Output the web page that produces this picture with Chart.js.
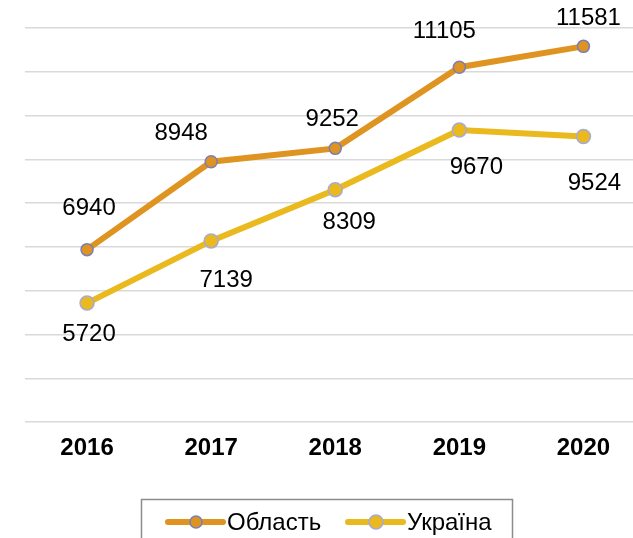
<!DOCTYPE html>
<html>
<head>
<meta charset="utf-8">
<script src="https://cdn.jsdelivr.net/npm/chart.js@4"></script>
<style>
  html, body { margin: 0; padding: 0; background: #fff; }
  #wrap { width: 633px; height: 538px; overflow: hidden; }
</style>
</head>
<body>
<div id="wrap"><canvas id="chart" width="654" height="538"></canvas></div>
<script>
// chart data
const years = ['2016', '2017', '2018', '2019', '2020'];
const oblast = [6940, 8948, 9252, 11105, 11581];
const ukraine = [5720, 7139, 8309, 9670, 9524];

// value label nudges, [dx, dy] from the point
const oblastShift = [[2, -41], [-30, -28], [-3, -29], [-15, -36], [5, -28]];
const ukraineShift = [[2, 31], [15, 39], [14, 33], [17, 37], [11, 47]];

const FONT = "'Liberation Sans', Arial, sans-serif";

// value labels next to the points
const labelPlugin = {
  id: 'valueLabels',
  afterDatasetsDraw(chart) {
    const ctx = chart.ctx;
    const shifts = [oblastShift, ukraineShift];
    ctx.save();
    ctx.font = '24px ' + FONT;
    ctx.fillStyle = '#000';
    ctx.textAlign = 'center';
    ctx.textBaseline = 'middle';
    chart.data.datasets.forEach(function (ds, i) {
      chart.getDatasetMeta(i).data.forEach(function (pt, j) {
        const s = shifts[i][j];
        ctx.fillText(String(ds.data[j]), pt.x + s[0], pt.y + s[1]);
      });
    });
    ctx.restore();
  }
};

// boxed legend with line + marker symbols
const legendPlugin = {
  id: 'boxLegend',
  afterDraw(chart) {
    const ctx = chart.ctx;
    const ds = chart.data.datasets;
    const cy = 522;
    ctx.save();
    ctx.strokeStyle = '#8c8c8c';
    ctx.lineWidth = 1.5;
    ctx.strokeRect(141.5, 499.5, 371, 60);
    [168, 348].forEach(function (x, i) {
      const d = ds[i];
      ctx.strokeStyle = d.borderColor;
      ctx.lineWidth = d.borderWidth;
      ctx.lineCap = 'round';
      ctx.beginPath();
      ctx.moveTo(x, cy);
      ctx.lineTo(x + 55, cy);
      ctx.stroke();
      ctx.beginPath();
      ctx.arc(x + 28, cy, d.pointRadius, 0, Math.PI * 2);
      ctx.fillStyle = d.pointBackgroundColor;
      ctx.fill();
      ctx.lineWidth = d.pointBorderWidth;
      ctx.strokeStyle = d.pointBorderColor;
      ctx.stroke();
      ctx.font = '24px ' + FONT;
      ctx.fillStyle = '#000';
      ctx.textAlign = 'left';
      ctx.textBaseline = 'middle';
      ctx.fillText(d.label, x + 59, cy + 1);
    });
    ctx.restore();
  }
};

new Chart(document.getElementById('chart').getContext('2d'), {
  type: 'line',
  data: {
    labels: years,
    datasets: [{
      label: 'Область',
      data: oblast,
      borderColor: '#df9320',
      borderWidth: 6,
      pointRadius: 6,
      pointBackgroundColor: '#df9320',
      pointBorderColor: '#7a7fb5',
      pointBorderWidth: 1.5,
      tension: 0,
      clip: false
    }, {
      label: 'Україна',
      data: ukraine,
      borderColor: '#eab91e',
      borderWidth: 6,
      pointRadius: 7,
      pointBackgroundColor: '#eab91e',
      pointBorderColor: '#a8aad6',
      pointBorderWidth: 1.5,
      tension: 0,
      clip: false
    }]
  },
  options: {
    responsive: false,
    animation: false,
    layout: { padding: { left: 25, right: 2, top: 28, bottom: 63 } },
    plugins: {
      legend: { display: false },
      tooltip: { enabled: false }
    },
    scales: {
      x: {
        offset: true,
        grid: { display: false, drawTicks: false },
        border: { display: false },
        ticks: {
          padding: 12,
          color: '#000',
          font: { family: FONT, size: 24, weight: 'bold' }
        }
      },
      y: {
        min: 3000,
        max: 12000,
        grid: { color: '#d9d9d9', lineWidth: 1.5, drawTicks: false },
        border: { display: false },
        ticks: { stepSize: 1000, display: false }
      }
    }
  },
  plugins: [labelPlugin, legendPlugin]
});
</script>
</body>
</html>
